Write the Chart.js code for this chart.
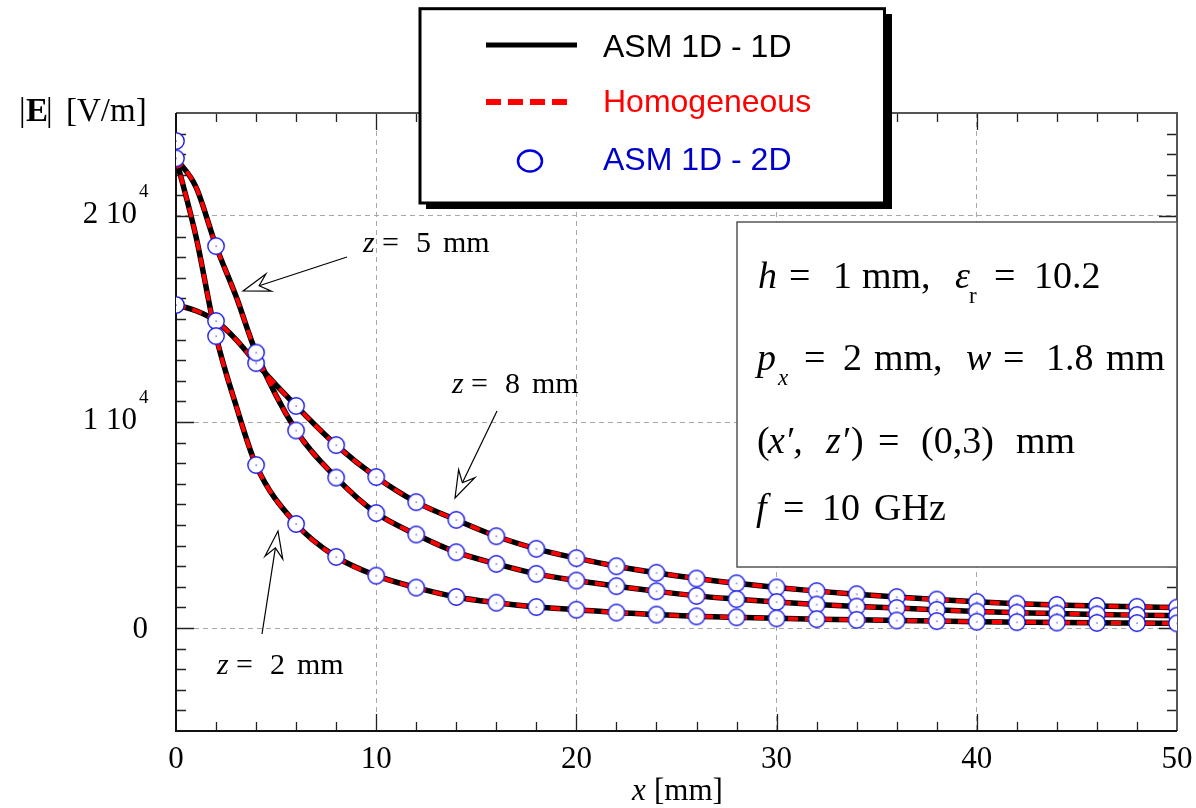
<!DOCTYPE html>
<html>
<head>
<meta charset="utf-8">
<script src="https://cdn.jsdelivr.net/npm/chart.js@4.4.1/dist/chart.umd.min.js"></script>
<style>
  html, body { margin: 0; padding: 0; background: #fff; }
  #wrap { width: 1196px; height: 808px; }
</style>
</head>
<body>
<div id="wrap"><canvas id="chart" width="1196" height="808"></canvas></div>
<script>
// x positions (mm) of the continuous curves
const xLine = [0, 1, 2, 3, 4, 6, 8, 10, 12, 14, 16, 18, 20, 22, 24, 26, 28, 30, 32, 34, 36, 38, 40, 42, 44, 46, 48, 50];
// |E| (V/m) of the continuous curves, ASM 1D-1D and homogeneous overlap
const z2Line = [22800, 19000, 14170, 10800, 7910, 5050, 3450, 2540, 1960, 1505, 1228, 1019, 888, 750, 650, 565, 520, 470, 430, 395, 365, 335, 305, 285, 265, 250, 238, 225];
const z5Line = [22800, 21400, 18540, 16100, 13370, 9590, 7300, 5580, 4540, 3680, 3115, 2630, 2305, 2030, 1785, 1560, 1400, 1260, 1140, 1040, 970, 880, 800, 745, 700, 660, 625, 600];
const z8Line = [15680, 15400, 14900, 14000, 12860, 10780, 8880, 7330, 6110, 5250, 4455, 3845, 3390, 3000, 2680, 2400, 2170, 1970, 1790, 1640, 1500, 1380, 1270, 1180, 1120, 1070, 1030, 990];

// ASM 1D-2D markers
const xPts = [0, 2, 4, 6, 8, 10, 12, 14, 16, 18, 20, 22, 24, 26, 28, 30, 32, 34, 36, 38, 40, 42, 44, 46, 48, 50];
const z2Pts = [23640, 14170, 7910, 5050, 3450, 2540, 1960, 1505, 1228, 1019, 888, 750, 650, 565, 520, 470, 430, 395, 365, 335, 305, 285, 265, 250, 238, 225];
const z5Pts = [22800, 18540, 13370, 9590, 7300, 5580, 4540, 3680, 3115, 2630, 2305, 2030, 1785, 1560, 1400, 1260, 1140, 1040, 970, 880, 800, 745, 700, 660, 625, 600];
const z8Pts = [15680, 14900, 12860, 10780, 8880, 7330, 6110, 5250, 4455, 3845, 3390, 3000, 2680, 2400, 2170, 1970, 1790, 1640, 1500, 1380, 1270, 1180, 1120, 1070, 1030, 990];

// axis ticks
const xMajor = [0, 10, 20, 30, 40, 50];
const yMajor = [0, 10000, 20000];
const yLabels = ["0", "1 10", "2 10"];

const SERIF = '"Liberation Serif", "Times New Roman", serif';
const SANS = '"Liberation Sans", Arial, sans-serif';
const BLUE = "#1a1ae8";

function toPoints(xs, ys) {
  return xs.map((x, i) => ({ x: x, y: ys[i] }));
}

// open circle with a tiny centre dot, used as point style
function makeMarker() {
  const c = document.createElement("canvas");
  c.width = 20;
  c.height = 20;
  const g = c.getContext("2d");
  g.beginPath();
  g.arc(10, 10, 8.2, 0, Math.PI * 2);
  g.fillStyle = "#fff";
  g.fill();
  g.lineWidth = 1.4;
  g.strokeStyle = BLUE;
  g.stroke();
  g.fillStyle = BLUE;
  g.fillRect(9.5, 9.5, 1.2, 1.2);
  return c;
}
const marker = makeMarker();

function solid(data) {
  return {
    data: data, borderColor: "#000", borderWidth: 5.5, pointRadius: 0,
    cubicInterpolationMode: "monotone", order: 3
  };
}
function dashed(data) {
  return {
    data: data, borderColor: "#ff0000", borderWidth: 4, borderDash: [10, 7], pointRadius: 0,
    cubicInterpolationMode: "monotone", order: 2
  };
}
function circles(data) {
  return {
    data: data, showLine: false, pointStyle: marker, pointRadius: 9,
    borderColor: BLUE, backgroundColor: "#fff", order: 1
  };
}

// draw text pieces at given x positions, same baseline
function parts(ctx, list, y, size) {
  list.forEach(p => {
    const s = p.size || size;
    ctx.font = (p.it ? "italic " : "") + (p.bold ? "bold " : "") + s + "px " + (p.font || SERIF);
    ctx.fillText(p.t, p.x, y + (p.dy || 0));
  });
}

function arrow(ctx, x0, y0, x1, y1) {
  const dx = x1 - x0, dy = y1 - y0;
  const L = Math.hypot(dx, dy);
  const ux = dx / L, uy = dy / L;
  const nx = -uy, ny = ux;
  const len = 27, half = 9, notch = 17;
  const nxp = x1 - ux * notch, nyp = y1 - uy * notch;
  ctx.beginPath();
  ctx.moveTo(x0, y0);
  ctx.lineTo(nxp, nyp);
  ctx.stroke();
  ctx.beginPath();
  ctx.moveTo(x1, y1);
  ctx.lineTo(x1 - ux * len + nx * half, y1 - uy * len + ny * half);
  ctx.lineTo(nxp, nyp);
  ctx.lineTo(x1 - ux * len - nx * half, y1 - uy * len - ny * half);
  ctx.closePath();
  ctx.fillStyle = "#fff";
  ctx.fill();
  ctx.stroke();
}

const decor = {
  id: "decor",
  beforeDatasetsDraw(chart) {
    const ctx = chart.ctx;
    const { left, right, top, bottom } = chart.chartArea;
    const xs = chart.scales.x, ys = chart.scales.y;
    ctx.save();
    // inward ticks on all four sides
    ctx.strokeStyle = "#222";
    ctx.lineWidth = 1.3;
    ctx.beginPath();
    for (let v = 2; v < 50; v += 2) {
      const px = Math.round(xs.getPixelForValue(v)) + 0.5;
      const len = v % 10 === 0 ? 17 : 9;
      ctx.moveTo(px, bottom); ctx.lineTo(px, bottom - len);
      ctx.moveTo(px, top); ctx.lineTo(px, top + len);
    }
    for (let v = -4000; v < 25000; v += 1000) {
      const py = Math.round(ys.getPixelForValue(v)) + 0.5;
      const len = v % 10000 === 0 ? 18 : 10;
      ctx.moveTo(left, py); ctx.lineTo(left + len, py);
      ctx.moveTo(right, py); ctx.lineTo(right - len, py);
    }
    ctx.stroke();
    // frame
    ctx.lineWidth = 2;
    ctx.strokeStyle = "#555";
    ctx.beginPath();
    ctx.moveTo(left, top); ctx.lineTo(right, top); ctx.lineTo(right, bottom);
    ctx.stroke();
    ctx.strokeStyle = "#111";
    ctx.beginPath();
    ctx.moveTo(left, top); ctx.lineTo(left, bottom); ctx.lineTo(right, bottom);
    ctx.stroke();

    // parameter box
    ctx.fillStyle = "#fff";
    ctx.fillRect(737, 222, right - 737, 345);
    ctx.strokeStyle = "#555";
    ctx.lineWidth = 1.5;
    ctx.strokeRect(737, 222, right - 737, 345);
    ctx.restore();
  },
  afterDraw(chart) {
    const ctx = chart.ctx;
    const ys = chart.scales.y;
    ctx.save();
    ctx.fillStyle = "#000";
    ctx.textBaseline = "alphabetic";

    // y tick labels with power of ten
    yMajor.forEach((v, i) => {
      const py = ys.getPixelForValue(v);
      ctx.font = "31px " + SERIF;
      if (v === 0) {
        ctx.textAlign = "right";
        ctx.fillText(yLabels[i], 148, py + 10);
      } else {
        ctx.textAlign = "right";
        ctx.fillText(yLabels[i], 137, py + 7);
        ctx.textAlign = "left";
        ctx.font = "19px " + SERIF;
        ctx.fillText("4", 139, py - 19);
      }
    });
    ctx.textAlign = "left";

    // axis titles
    parts(ctx, [
      { t: "|", x: 19 }, { t: "E", x: 26, bold: true }, { t: "|", x: 46 }, { t: "[V/m]", x: 66 }
    ], 121, 33);
    parts(ctx, [{ t: "x", x: 632, it: true }, { t: "[mm]", x: 654 }], 800, 31);

    // parameter text
    parts(ctx, [
      { t: "h", x: 758, it: true }, { t: "=", x: 789 }, { t: "1", x: 833 }, { t: "mm,", x: 862 },
      { t: "\u03b5", x: 955, it: true }, { t: "r", x: 969, size: 23, dy: 15 },
      { t: "=", x: 994 }, { t: "10.2", x: 1034 }
    ], 288, 38);
    parts(ctx, [
      { t: "p", x: 757, it: true }, { t: "x", x: 778, it: true, size: 23, dy: 15 },
      { t: "=", x: 804 }, { t: "2", x: 843 }, { t: "mm,", x: 874 },
      { t: "w", x: 966, it: true }, { t: "=", x: 1003 }, { t: "1.8", x: 1046 }, { t: "mm", x: 1106 }
    ], 370, 38);
    parts(ctx, [
      { t: "(", x: 757 }, { t: "x\u2032,", x: 768, it: true }, { t: "z\u2032", x: 826, it: true },
      { t: ")", x: 851 }, { t: "=", x: 878 }, { t: "(0,3)", x: 921 }, { t: "mm", x: 1016 }
    ], 453, 38);
    parts(ctx, [
      { t: "f", x: 756, it: true }, { t: "=", x: 783 }, { t: "10", x: 822 }, { t: "GHz", x: 874 }
    ], 520, 38);

    // curve labels and arrows
    const zlab = (x, y, d) => parts(ctx, [
      { t: "z", x: x, it: true }, { t: "=", x: x + 19 }, { t: d, x: x + 53 }, { t: "mm", x: x + 80 }
    ], y, 30);
    zlab(363, 252, "5");
    zlab(452, 393, "8");
    zlab(217, 674, "2");
    ctx.strokeStyle = "#000";
    ctx.lineWidth = 1.2;
    arrow(ctx, 347, 257, 243, 291);
    arrow(ctx, 497, 411, 455, 498);
    arrow(ctx, 262, 634, 278, 531);

    // legend box with shadow
    ctx.fillStyle = "#000";
    ctx.fillRect(426, 14, 466, 195);
    ctx.fillStyle = "#fff";
    ctx.fillRect(420, 8.7, 464.5, 194.3);
    ctx.lineWidth = 3;
    ctx.strokeStyle = "#000";
    ctx.strokeRect(420, 8.7, 464.5, 194.3);

    ctx.lineWidth = 5;
    ctx.beginPath();
    ctx.moveTo(486, 45); ctx.lineTo(577, 45);
    ctx.stroke();
    ctx.strokeStyle = "#ff0000";
    ctx.lineWidth = 6;
    ctx.setLineDash([15, 7]);
    ctx.beginPath();
    ctx.moveTo(486, 102); ctx.lineTo(567, 102);
    ctx.stroke();
    ctx.setLineDash([]);
    ctx.strokeStyle = "#0000dd";
    ctx.lineWidth = 2.5;
    ctx.beginPath();
    ctx.ellipse(530, 161, 12, 10.5, 0, 0, Math.PI * 2);
    ctx.stroke();

    ctx.font = "32px " + SANS;
    ctx.fillStyle = "#000";
    ctx.fillText("ASM 1D - 1D", 603, 57);
    ctx.fillStyle = "#ff0000";
    ctx.fillText("Homogeneous", 603, 112);
    ctx.fillStyle = "#0000cc";
    ctx.fillText("ASM 1D - 2D", 603, 170);
    ctx.restore();
  }
};

const chart = new Chart(document.getElementById("chart"), {
  type: "line",
  data: {
    datasets: [
      solid(toPoints(xLine, z2Line)),
      solid(toPoints(xLine, z5Line)),
      solid(toPoints(xLine, z8Line)),
      dashed(toPoints(xLine, z2Line)),
      dashed(toPoints(xLine, z5Line)),
      dashed(toPoints(xLine, z8Line)),
      circles(toPoints(xPts, z2Pts)),
      circles(toPoints(xPts, z5Pts)),
      circles(toPoints(xPts, z8Pts))
    ]
  },
  options: {
    responsive: false,
    animation: false,
    devicePixelRatio: 1,
    layout: { padding: { top: 113, right: 19, left: 0, bottom: 0 } },
    plugins: { legend: { display: false }, tooltip: { enabled: false } },
    scales: {
      x: {
        type: "linear",
        min: 0,
        max: 50,
        afterBuildTicks: s => { s.ticks = xMajor.map(v => ({ value: v })); },
        afterFit: s => { s.height = 77; s.paddingLeft = 0; s.paddingRight = 0; },
        ticks: { font: { family: SERIF, size: 31 }, color: "#000", padding: 10, maxRotation: 0 },
        grid: {
          drawTicks: false,
          lineWidth: 1,
          color: c => (c.tick && (c.tick.value === 0 || c.tick.value === 50)) ? "rgba(0,0,0,0)" : "#a8a8a8"
        },
        border: { display: false, dash: [5, 4] }
      },
      y: {
        type: "linear",
        min: -5000,
        max: 25000,
        afterBuildTicks: s => { s.ticks = yMajor.map(v => ({ value: v })); },
        afterFit: s => { s.width = 176; s.paddingTop = 0; s.paddingBottom = 0; },
        ticks: { display: false },
        grid: { drawTicks: false, lineWidth: 1, color: "#a8a8a8" },
        border: { display: false, dash: [5, 4] }
      }
    }
  },
  plugins: [decor]
});
</script>
</body>
</html>
